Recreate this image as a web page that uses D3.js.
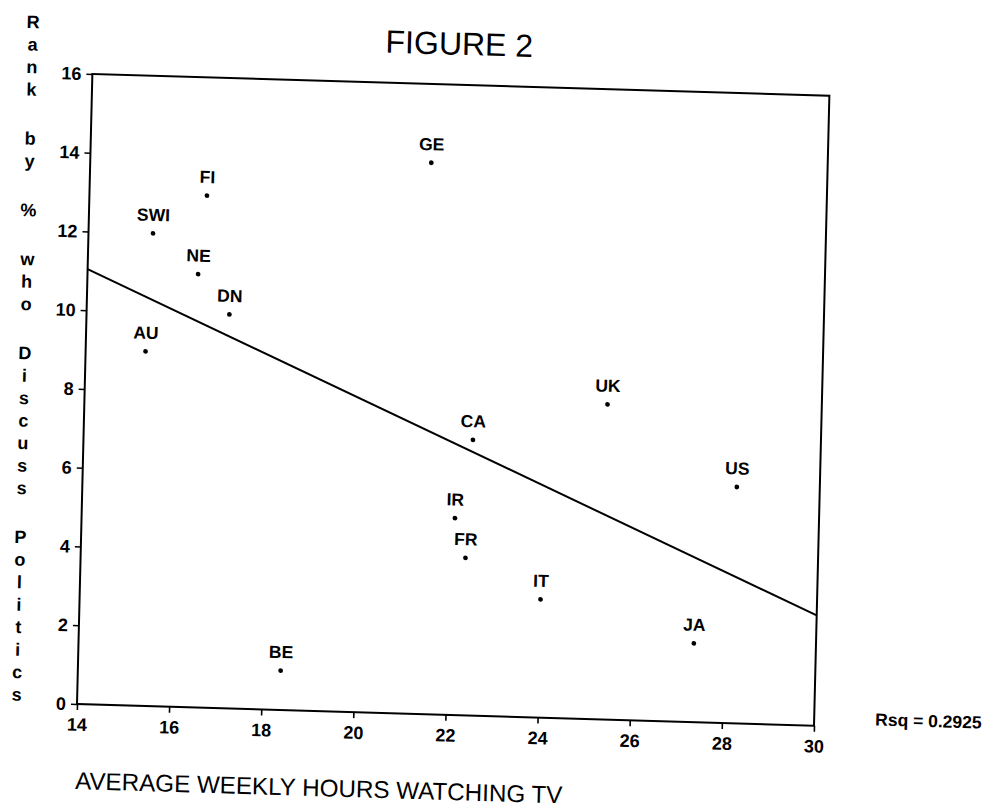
<!DOCTYPE html>
<html>
<head>
<meta charset="utf-8">
<script src="https://cdn.jsdelivr.net/npm/d3@7"></script>
<style>
  body { margin: 0; background: #fff; }
  text { font-family: Arial, "Liberation Sans", sans-serif; fill: #000; }
</style>
</head>
<body>
<div id="chart"></div>
<script>
const countries = ["GE", "FI", "SWI", "NE", "DN", "AU", "CA", "IR", "FR", "BE", "UK", "US", "IT", "JA"];
const hours = [21.4, 16.55, 15.4, 16.4, 17.1, 15.3, 22.45, 22.1, 22.35, 18.4, 25.35, 28.2, 24.0, 27.35];
const ranks = [14, 13, 12, 11, 10, 9, 7, 5, 4, 1, 8, 6, 3, 2];

const xTicks = [14, 16, 18, 20, 22, 24, 26, 28, 30];
const yTicks = [0, 2, 4, 6, 8, 10, 12, 14, 16];

const titleText = "FIGURE 2";
const xTitle = "AVERAGE WEEKLY HOURS WATCHING TV";
const yTitleWords = ["Rank", "by", "%", "who", "Discuss", "Politics"];
const rsqLabel = "Rsq = 0.2925";

const width = 1002, height = 811;
const plotLeft = 77, plotRight = 814, plotTop = 74, plotBottom = 704;

const svg = d3.select("#chart")
  .append("svg")
  .attr("width", width)
  .attr("height", height);

// the scanned page sits slightly skewed
const page = svg.append("g")
  .attr("transform", `translate(${plotLeft},${plotBottom}) matrix(1,0.0294,-0.0244,1,0,0) translate(${-plotLeft},${-plotBottom})`);

const x = d3.scaleLinear().domain([14, 30]).range([plotLeft, plotRight]);
const y = d3.scaleLinear().domain([0, 16]).range([plotBottom, plotTop]);

// frame
page.append("rect")
  .attr("x", plotLeft)
  .attr("y", plotTop)
  .attr("width", plotRight - plotLeft)
  .attr("height", plotBottom - plotTop)
  .style("fill", "none")
  .style("stroke", "#000")
  .style("stroke-width", 2);

const xAxis = page.append("g")
  .attr("transform", `translate(0,${plotBottom})`)
  .call(d3.axisBottom(x).tickValues(xTicks).tickSize(6).tickPadding(8).tickSizeOuter(0));

const yAxis = page.append("g")
  .attr("transform", `translate(${plotLeft},0)`)
  .call(d3.axisLeft(y).tickValues(yTicks).tickSize(6).tickPadding(5).tickSizeOuter(0));

[xAxis, yAxis].forEach(g => {
  g.attr("font-family", null).attr("font-size", 18).attr("font-weight", "bold");
  g.select(".domain").remove();
  g.selectAll(".tick line").style("stroke", "#000").style("stroke-width", 1.6);
});

// least squares fit
const mx = d3.mean(hours), my = d3.mean(ranks);
const sxy = d3.sum(hours, (h, i) => (h - mx) * (ranks[i] - my));
const sxx = d3.sum(hours, h => (h - mx) * (h - mx));
const slope = sxy / sxx;
const fit = v => my + slope * (v - mx);

page.append("path")
  .datum([14, 30])
  .attr("d", d3.line().x(d => x(d)).y(d => y(fit(d))))
  .style("fill", "none")
  .style("stroke", "#000")
  .style("stroke-width", 2);

const pts = countries.map((c, i) => ({ c: c, h: hours[i], r: ranks[i] }));

page.selectAll(".dot")
  .data(pts)
  .enter().append("circle")
  .attr("class", "dot")
  .attr("cx", d => x(d.h))
  .attr("cy", d => y(d.r))
  .attr("r", 2.4)
  .style("fill", "#000");

page.selectAll(".lbl")
  .data(pts)
  .enter().append("text")
  .attr("class", "lbl")
  .attr("x", d => x(d.h))
  .attr("y", d => y(d.r) - 12.5)
  .attr("text-anchor", "middle")
  .attr("font-size", 17.5)
  .attr("font-weight", "bold")
  .text(d => d.c);

// titles
page.append("text")
  .attr("x", 443)
  .attr("y", 44)
  .attr("text-anchor", "middle")
  .attr("font-size", 32)
  .text(titleText);

page.append("text")
  .attr("x", plotLeft)
  .attr("y", 789)
  .attr("font-size", 24.2)
  .text(xTitle);

page.append("text")
  .attr("x", 875)
  .attr("y", 702)
  .attr("font-size", 17.5)
  .attr("font-weight", "bold")
  .text(rsqLabel);

// stacked y title, one letter per line
const yLetters = [];
let yPos = 24;
yTitleWords.forEach(w => {
  w.split("").forEach(ch => {
    yLetters.push({ ch: ch, y: yPos });
    yPos += 22.5;
  });
  yPos += 49 - 22.5;
});

page.selectAll(".ylet")
  .data(yLetters)
  .enter().append("text")
  .attr("class", "ylet")
  .attr("x", 16.5)
  .attr("y", d => d.y + 6)
  .attr("text-anchor", "middle")
  .attr("font-size", 18)
  .attr("font-weight", "bold")
  .text(d => d.ch);
</script>
</body>
</html>
